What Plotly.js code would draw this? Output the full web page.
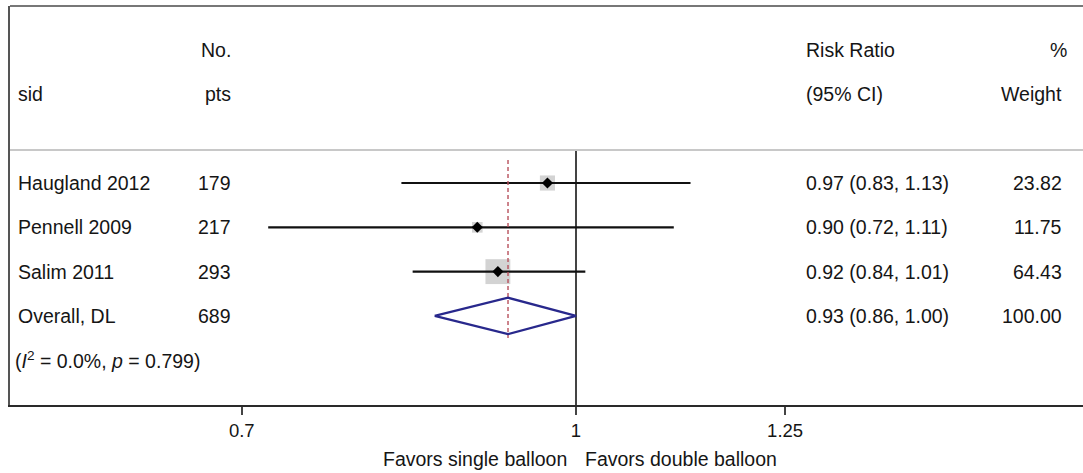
<!DOCTYPE html>
<html>
<head>
<meta charset="utf-8">
<script src="https://cdn.plot.ly/plotly-3.0.1.min.js"></script>
<style>html,body{margin:0;padding:0;background:#fff;}#chart{width:1083px;height:473px;}</style>
</head>
<body>
<div id="chart"></div>
<script>
// ---- data ----
const studies = ['Haugland 2012', 'Pennell 2009', 'Salim 2011'];
const nPts = [179, 217, 293];
const rr = [0.97, 0.90, 0.92];
const ciLo = [0.83, 0.72, 0.84];
const ciHi = [1.13, 1.11, 1.01];
const weights = [23.82, 11.75, 64.43];
const overallLabel = 'Overall, DL';
const overallN = 689;
const overallRR = 0.93;
const overallLo = 0.86;
const overallHi = 1.00;
const overallWeight = 100.00;
const hetText = '(<i>I</i><sup>2</sup> = 0.0%, <i>p</i> = 0.799)';
const headerTop = ['', 'No.', 'Risk Ratio', '%'];
const headerBottom = ['sid', 'pts', '(95% CI)', 'Weight'];
const tickVals = [0.7, 1, 1.25];
const tickText = ['0.7', '1', '1.25'];
const favorsLeft = 'Favors single balloon';
const favorsRight = 'Favors double balloon';

// ---- styling ----
const FONT = 'Liberation Sans, Arial, sans-serif';
const FS = 19.5;
const TXT = '#151515';
const traces = [];
const nS = studies.length;
const overallRow = nS;

// weight boxes
traces.push({
  type: 'scatter', mode: 'markers', x: rr, y: studies.map((_, i) => i),
  marker: {symbol: 'square', color: '#c0c0c0', size: weights.map(w => 3.1 * Math.sqrt(w)), line: {width: 0}},
  hoverinfo: 'skip', showlegend: false
});
// CI lines
for (let i = 0; i < nS; i++) {
  traces.push({
    type: 'scatter', mode: 'lines', x: [ciLo[i], ciHi[i]], y: [i, i],
    line: {color: '#111', width: 2.2}, hoverinfo: 'skip', showlegend: false
  });
}
// overall dashed line
traces.push({
  type: 'scatter', mode: 'lines', x: [overallRR, overallRR], y: [-0.52, overallRow + 0.5],
  line: {color: '#b8505c', width: 1.4, dash: '4px,3px'}, hoverinfo: 'skip', showlegend: false
});
// point estimates
traces.push({
  type: 'scatter', mode: 'markers', x: rr, y: studies.map((_, i) => i),
  marker: {symbol: 'diamond', color: '#000', size: 8.5}, hoverinfo: 'skip', showlegend: false
});
// overall diamond
traces.push({
  type: 'scatter', mode: 'lines',
  x: [overallLo, overallRR, overallHi, overallRR, overallLo],
  y: [overallRow, overallRow - 0.41, overallRow, overallRow + 0.41, overallRow],
  line: {color: '#28288c', width: 2.2}, hoverinfo: 'skip', showlegend: false
});

// ---- text columns ----
const colX = {name: 0.0065, n: 0.2065, ci: 0.7409, w: 0.9814, pct: 0.986};
const ann = [];
function A(x, y, text, anchor, extra) {
  ann.push(Object.assign({xref: 'paper', yref: 'y', x: x, y: y, text: text, xanchor: anchor, yanchor: 'middle',
    showarrow: false, borderpad: 0, font: {family: FONT, size: FS, color: TXT}}, extra || {}));
}
// headers
A(colX.n, -3, headerTop[1], 'right');
A(colX.ci, -3, headerTop[2], 'left');
A(colX.pct, -3, headerTop[3], 'right');
A(colX.name, -2, headerBottom[0], 'left');
A(colX.n, -2, headerBottom[1], 'right');
A(colX.ci, -2, headerBottom[2], 'left');
A(colX.w, -2, headerBottom[3], 'right');
for (let i = 0; i < nS; i++) {
  A(colX.name, i, studies[i], 'left');
  A(colX.n, i, String(nPts[i]), 'right');
  A(colX.ci, i, rr[i].toFixed(2) + ' (' + ciLo[i].toFixed(2) + ', ' + ciHi[i].toFixed(2) + ')', 'left');
  A(colX.w, i, weights[i].toFixed(2), 'right');
}
A(colX.name, overallRow, overallLabel, 'left');
A(colX.n, overallRow, String(overallN), 'right');
A(colX.ci, overallRow, overallRR.toFixed(2) + ' (' + overallLo.toFixed(2) + ', ' + overallHi.toFixed(2) + ')', 'left');
A(colX.w, overallRow, overallWeight.toFixed(2), 'right');
A(0.004, overallRow + 1, hetText, 'left');
// favors labels
ann.push({xref: 'x', yref: 'paper', x: Math.log10(1), y: -0.1353, xshift: -8, text: favorsLeft, xanchor: 'right', yanchor: 'middle',
  showarrow: false, borderpad: 0, font: {family: FONT, size: 19.5, color: TXT}});
ann.push({xref: 'x', yref: 'paper', x: Math.log10(1), y: -0.1353, xshift: 8, text: favorsRight, xanchor: 'left', yanchor: 'middle',
  showarrow: false, borderpad: 0, font: {family: FONT, size: 19.5, color: TXT}});

const layout = {
  width: 1083, height: 473,
  margin: {l: 10, r: 0, t: 6, b: 68},
  paper_bgcolor: '#fff', plot_bgcolor: '#fff',
  showlegend: false,
  xaxis: {
    type: 'log', range: [-0.26234, 0.23499], fixedrange: true,
    showgrid: false, zeroline: false,
    showline: true, linecolor: '#2a2a2a', linewidth: 2,
    ticks: 'outside', ticklen: 8, tickwidth: 2, tickcolor: '#444',
    tickvals: tickVals, ticktext: tickText,
    tickfont: {family: FONT, size: 18.5, color: TXT}
  },
  yaxis: {
    range: [5.011, -3.996], fixedrange: true,
    showgrid: false, zeroline: false, showticklabels: false, ticks: '',
    showline: true, linecolor: '#555', linewidth: 2
  },
  shapes: [
    {type: 'line', xref: 'paper', yref: 'paper', x0: 0, x1: 1, y0: 1, y1: 1, line: {color: '#777', width: 2}},
    {type: 'line', xref: 'paper', yref: 'y', x0: 0, x1: 1, y0: -0.745, y1: -0.745, line: {color: '#c8c8c8', width: 2}},
    {type: 'line', xref: 'x', yref: 'y', x0: 1, x1: 1, y0: -0.745, y1: 5.011, line: {color: '#444', width: 2}, layer: 'below'}
  ],
  annotations: ann,
  font: {family: FONT, color: TXT}
};

Plotly.newPlot('chart', traces, layout, {staticPlot: true, displayModeBar: false});
</script>
</body>
</html>
